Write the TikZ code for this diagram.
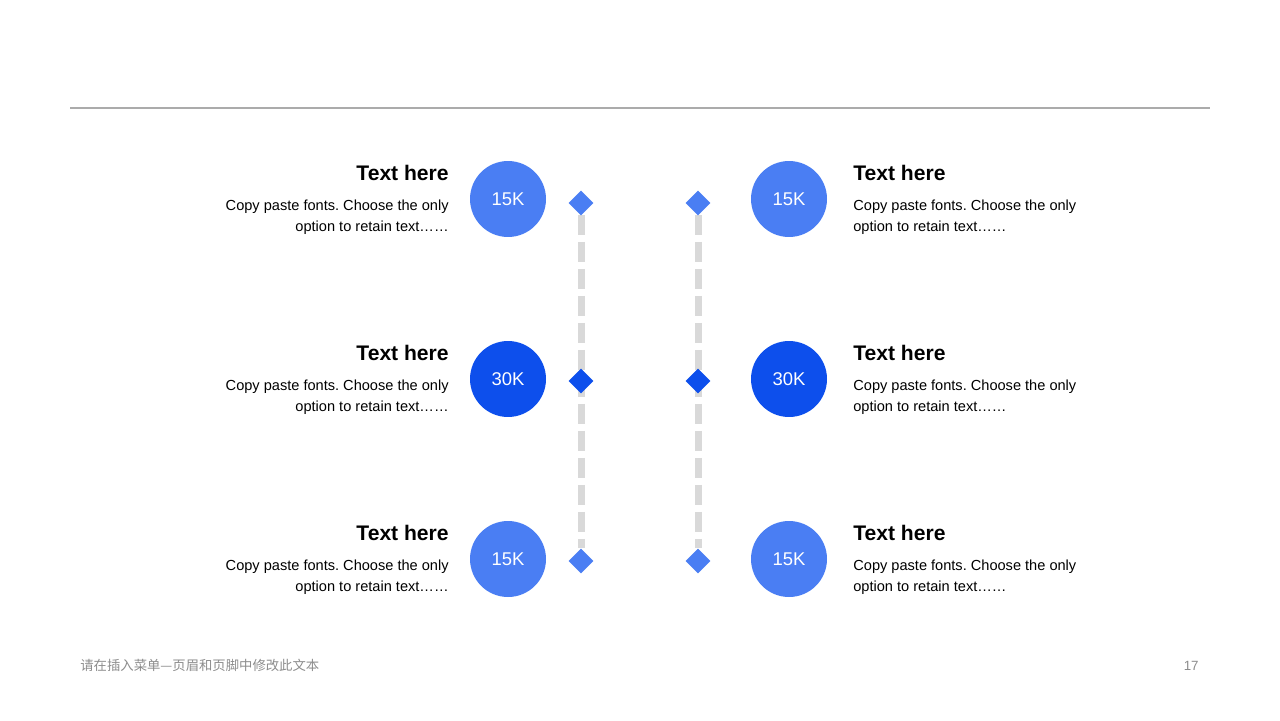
\documentclass[tikz,border=0pt]{standalone}
\usepackage{fontspec}
\setmainfont{Liberation Sans}
\newfontfamily\cjk{Noto Sans CJK SC}
\usetikzlibrary{shapes.geometric,positioning,backgrounds}
\frenchspacing

\definecolor{lightblue}{HTML}{4A7EF3}
\definecolor{darkblue}{HTML}{0D4FEC}
\definecolor{rulegray}{HTML}{ABABAB}
\definecolor{dashgray}{HTML}{D9D9D9}
\definecolor{footgray}{HTML}{8C8C8C}

\tikzstyle{value_light} = [circle, fill=lightblue, text=white, inner sep=0pt,
minimum size=1.52cm, font=\fontsize{10.5pt}{12pt}\selectfont]
\tikzstyle{value_dark} = [value_light, fill=darkblue]
\tikzstyle{mark_light} = [diamond, fill=lightblue, inner sep=0pt, minimum size=0.5cm]
\tikzstyle{mark_dark} = [mark_light, fill=darkblue]
\tikzstyle{title} = [inner sep=0pt, font=\fontsize{12pt}{14pt}\selectfont\bfseries]
\tikzstyle{body} = [inner sep=0pt, font=\fontsize{8.3pt}{11.9pt}\selectfont]
\tikzstyle{track} = [draw=dashgray, line width=0.14cm, dash pattern=on 0.4cm off 0.14cm]

\begin{document}
\begin{tikzpicture}[x=0.02cm, y=-0.02cm]
	\useasboundingbox (0,0) rectangle (1280,720);

	%Header rule
	\coordinate (ruleL) at (70,108);
	\coordinate (ruleR) at (1210,108);
	\draw [rulegray, line width=0.6pt] (ruleL) -- (ruleR);

	%Diamonds
	\node [mark_light] (d1l) at (581,203) {};
	\node [mark_dark] (d2l) at (581,381) {};
	\node [mark_light] (d3l) at (581,561) {};
	\node [mark_light] (d1r) at (698,203) {};
	\node [mark_dark] (d2r) at (698,381) {};
	\node [mark_light] (d3r) at (698,561) {};

	%Lines
	\begin{scope}[on background layer]
		\path [track] (d1l.center) ++(0,12) -- (d3l.north);
		\path [track] (d1r.center) ++(0,12) -- (d3r.north);
	\end{scope}

	%Circles
	\node [value_light] (c1l) at (508,199) {15K};
	\node [value_dark] (c2l) at (508,379) {30K};
	\node [value_light] (c3l) at (508,559) {15K};
	\node [value_light] (c1r) at (789,199) {15K};
	\node [value_dark] (c2r) at (789,379) {30K};
	\node [value_light] (c3r) at (789,559) {15K};

	%Left texts
	\node [title, anchor=base east] (t1l) at (449,180) {Text here};
	\node [body, anchor=base east, align=right] (b1l) at (449,231) {Copy paste fonts. Choose the only\\option to retain text……};
	\node [title, anchor=base east] (t2l) at (449,360) {Text here};
	\node [body, anchor=base east, align=right] (b2l) at (449,411) {Copy paste fonts. Choose the only\\option to retain text……};
	\node [title, anchor=base east] (t3l) at (449,540) {Text here};
	\node [body, anchor=base east, align=right] (b3l) at (449,591) {Copy paste fonts. Choose the only\\option to retain text……};

	%Right texts
	\node [title, anchor=base west] (t1r) at (853,180) {Text here};
	\node [body, anchor=base west, align=left] (b1r) at (853,231) {Copy paste fonts. Choose the only\\option to retain text……};
	\node [title, anchor=base west] (t2r) at (853,360) {Text here};
	\node [body, anchor=base west, align=left] (b2r) at (853,411) {Copy paste fonts. Choose the only\\option to retain text……};
	\node [title, anchor=base west] (t3r) at (853,540) {Text here};
	\node [body, anchor=base west, align=left] (b3r) at (853,591) {Copy paste fonts. Choose the only\\option to retain text……};

	%Footer
	\node [inner sep=0pt, anchor=west, text=footgray, font=\cjk\fontsize{7.6pt}{9pt}\selectfont] (foot) at (80,665) {请在插入菜单—页眉和页脚中修改此文本};
	\node [inner sep=0pt, anchor=east, text=footgray, font=\fontsize{7.6pt}{9pt}\selectfont] (page) at (1199,666) {17};
\end{tikzpicture}
\end{document}
